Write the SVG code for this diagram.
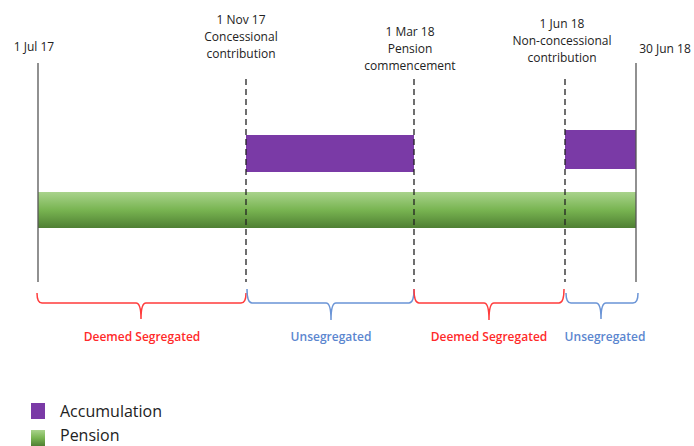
<svg xmlns="http://www.w3.org/2000/svg" width="694" height="446" viewBox="0 0 694 446">
<defs>
<linearGradient id="pg" x1="0" y1="0" x2="0" y2="1">
<stop offset="0" stop-color="#a9d38c"/>
<stop offset="0.5" stop-color="#78b451"/>
<stop offset="1" stop-color="#4f7f33"/>
</linearGradient>
<style>
.t{font-family:"Open Sans","Liberation Sans",sans-serif;font-size:12px;fill:#222;text-anchor:middle}
.solid{stroke:#555;stroke-width:1.3;fill:none}
.dash{stroke:#222;stroke-width:1.3;stroke-dasharray:6,4;fill:none}
.acc{fill:#7a3aa6}
.red{stroke:#ff3b3b;stroke-width:1.5;fill:none}
.blue{stroke:#6a94d6;stroke-width:1.5;fill:none}
.lr{font-family:"Open Sans","Liberation Sans",sans-serif;font-size:12px;fill:#ff2a2a;text-anchor:middle;font-weight:600}
.lb{font-family:"Open Sans","Liberation Sans",sans-serif;font-size:12px;fill:#5b86cf;text-anchor:middle;font-weight:600}
.lg{font-family:"Open Sans","Liberation Sans",sans-serif;font-size:16px;fill:#222}
</style>
</defs>
<g id="bars">
<rect x="38" y="192" width="598" height="36" fill="url(#pg)"/>
<rect class="acc" x="246" y="135" width="168" height="37"/>
<rect class="acc" x="565" y="130" width="71" height="39"/>
</g>
<g id="connectors">
<line class="solid" x1="38" y1="63" x2="38" y2="282"/>
<line class="dash" x1="246" y1="79" x2="246" y2="282"/>
<line class="dash" x1="414" y1="79" x2="414" y2="282"/>
<line class="dash" x1="565" y1="79" x2="565" y2="282"/>
<line class="solid" x1="636" y1="63" x2="636" y2="282"/>
<path class="red" d="M37,293 q0,10 5,10 H136 q5,0 5,16 q0,-16 5,-16 H241 q5,0 5,-10"/>
<path class="blue" d="M247,289 q0,14 5,14 H326 q5,0 5,17 q0,-17 5,-17 H409 q5,0 5,-14"/>
<path class="red" d="M414,289 q0,14 5,14 H484 q5,0 5,17 q0,-17 5,-17 H559 q5,0 5,-14"/>
<path class="blue" d="M566,293 q0,10 5,10 H596 q5,0 5,16 q0,-16 5,-16 H633 q5,0 5,-10"/>
</g>
<g id="label-jul">
<text class="t" x="34" y="51">1 Jul 17</text>
</g>
<g id="label-nov">
<text class="t" x="241" y="24">1 Nov 17</text>
<text class="t" x="241" y="41">Concessional</text>
<text class="t" x="241" y="58">contribution</text>
</g>
<g id="label-mar">
<text class="t" x="410" y="36">1 Mar 18</text>
<text class="t" x="410" y="53">Pension</text>
<text class="t" x="410" y="70">commencement</text>
</g>
<g id="label-jun">
<text class="t" x="562" y="28">1 Jun 18</text>
<text class="t" x="562" y="45">Non-concessional</text>
<text class="t" x="562" y="62">contribution</text>
</g>
<g id="label-30jun">
<text class="t" x="665" y="53">30 Jun 18</text>
</g>
<g id="segments">
<text class="lr" x="142" y="341">Deemed Segregated</text>
<text class="lb" x="331" y="341">Unsegregated</text>
<text class="lr" x="489" y="341">Deemed Segregated</text>
<text class="lb" x="605" y="341">Unsegregated</text>
</g>
<g id="legend">
<rect class="acc" x="31" y="403" width="14" height="16"/>
<text class="lg" x="60" y="417">Accumulation</text>
<rect x="31" y="430" width="14" height="16" fill="url(#pg)"/>
<text class="lg" x="60" y="441">Pension</text>
</g>
</svg>
